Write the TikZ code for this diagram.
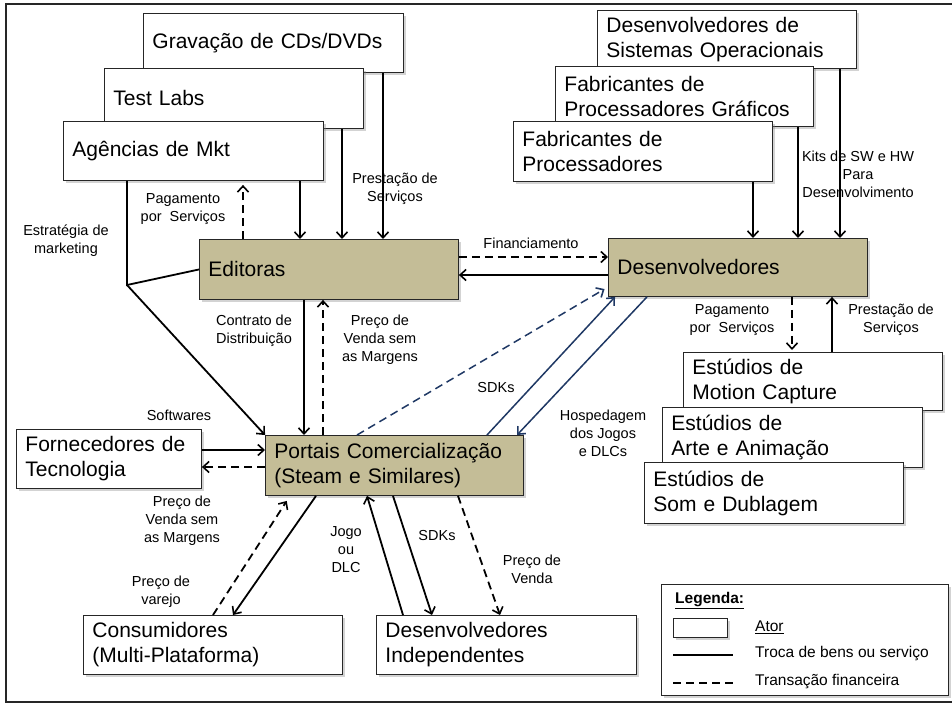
\documentclass[tikz,border=0pt]{standalone}
\usepackage{fontspec}
\setmainfont{Liberation Sans}
\usetikzlibrary{shadows,arrows.meta}
\definecolor{tanfill}{RGB}{196,189,151}
\definecolor{navy}{RGB}{31,56,100}
\begin{document}
\begin{tikzpicture}[x=1pt,y=-1pt,
  box/.style={draw=black!85, line width=0.9pt, fill=white, rectangle, anchor=north west,
    inner xsep=9pt, inner ysep=0pt, align=left, font=\fontsize{21}{25}\selectfont,
    drop shadow={shadow xshift=2.5pt,shadow yshift=-2.5pt,opacity=0.35}},
  tanbox/.style={box, fill=tanfill},
  lbl/.style={align=center, inner sep=0pt, font=\fontsize{14.5}{18}\selectfont},
  legtxt/.style={anchor=west, inner sep=0pt, font=\fontsize{15.5}{18}\selectfont},
  plain/.style={line width=1.8pt, draw=black},
  sol/.style={plain, -{Straight Barb[length=6pt,width=11pt,line width=1.6pt]}},
  dsh/.style={sol, dash pattern=on 8pt off 5pt},
  bsol/.style={sol, draw=navy, line width=1.5pt},
  bdsh/.style={dsh, draw=navy, line width=1.5pt}
]
\useasboundingbox (0,0) rectangle (952,704);
\draw[line width=2pt, draw=black!85] (6,4) rectangle (962,702);

% top-left stack
\node[box, minimum width=260pt, minimum height=59pt, text width=242pt] (grav) at (143,13) {Gravação de CDs/DVDs};
\node[box, minimum width=259pt, minimum height=60pt, text width=241pt] (test) at (104,68) {Test Labs};
\node[box, minimum width=260pt, minimum height=59pt, text width=242pt] (agen) at (63,121) {Agências de Mkt};
% top-right stack
\node[box, minimum width=259pt, minimum height=58pt, text width=241pt] (so) at (597,10) {Desenvolvedores de\\Sistemas Operacionais};
\node[box, minimum width=258pt, minimum height=60pt, text width=240pt] (gpu) at (555,66) {Fabricantes de\\Processadores Gráficos};
\node[box, minimum width=259pt, minimum height=60pt, text width=241pt] (cpu) at (513,121) {Fabricantes de\\Processadores};
% main actors
\node[tanbox, minimum width=259pt, minimum height=60pt, text width=241pt] (edit) at (199,239) {Editoras};
\node[tanbox, minimum width=259pt, minimum height=58pt, text width=241pt] (dev) at (608,238) {Desenvolvedores};
\node[tanbox, minimum width=258pt, minimum height=60pt, text width=240pt] (port) at (265,435) {Portais Comercialização\\(Steam e Similares)};
% studios
\node[box, minimum width=259pt, minimum height=58pt, text width=241pt] (mocap) at (683,352) {Estúdios de\\Motion Capture};
\node[box, minimum width=260pt, minimum height=60pt, text width=242pt] (arte) at (662,407) {Estúdios de\\Arte e Animação};
\node[box, minimum width=259pt, minimum height=61pt, text width=241pt] (som) at (644,462) {Estúdios de\\Som e Dublagem};
% others
\node[box, minimum width=185pt, minimum height=59pt, text width=167pt] (forn) at (16,429) {Fornecedores de\\Tecnologia};
\node[box, minimum width=259pt, minimum height=59pt, text width=241pt] (cons) at (83,615) {Consumidores\\(Multi-Plataforma)};
\node[box, minimum width=260pt, minimum height=59pt, text width=242pt] (indie) at (376,615) {Desenvolvedores\\Independentes};

% helper coordinates
\coordinate (x383) at (383,0); \coordinate (x342) at (342,0); \coordinate (x300) at (300,0);
\coordinate (x243) at (243,0); \coordinate (x304) at (304,0); \coordinate (x323) at (323,0);
\coordinate (x753) at (753,0); \coordinate (x798) at (798,0); \coordinate (x840) at (840,0);
\coordinate (x792) at (792,0); \coordinate (x832) at (832,0);
\coordinate (x316) at (316,0); \coordinate (x233) at (233,0); \coordinate (x213) at (213,0);
\coordinate (x290) at (290,0); \coordinate (x403) at (403,0); \coordinate (x367) at (367,0);
\coordinate (x393) at (393,0); \coordinate (x432) at (432,0); \coordinate (x458) at (458,0);
\coordinate (x500) at (500,0); \coordinate (x357) at (357,0); \coordinate (x487) at (487,0);
\coordinate (x615) at (615,0); \coordinate (x647) at (647,0); \coordinate (x517) at (517,0);
\coordinate (y257) at (0,257); \coordinate (y275) at (0,275); \coordinate (y287) at (0,287);
\coordinate (y450) at (0,450); \coordinate (y467) at (0,467);
\coordinate (jn) at (127,285);

% connectors to Editoras
\draw[sol] (grav.south -| x383) -- (edit.north -| x383);
\draw[sol] (test.south -| x342) -- (edit.north -| x342);
\draw[sol] (agen.south -| x300) -- (edit.north -| x300);
\draw[dsh, shorten >=4pt] (edit.north -| x243) -- (agen.south -| x243);
\draw[plain] (agen.south -| jn) -- (jn) -- (edit.west);
\draw[sol] (jn) -- (port.north west);
% Editoras <-> Portais
\draw[sol] (edit.south -| x304) -- (port.north -| x304);
\draw[dsh] (port.north -| x323) -- (edit.south -| x323);
% Editoras <-> Desenvolvedores
\draw[dsh] (edit.east |- y257) -- (dev.west |- y257);
\draw[sol] (dev.west |- y275) -- (edit.east |- y275);
% suppliers to Desenvolvedores
\draw[sol] (cpu.south -| x753) -- (dev.north -| x753);
\draw[sol] (gpu.south -| x798) -- (dev.north -| x798);
\draw[sol] (so.south -| x840) -- (dev.north -| x840);
% Desenvolvedores <-> studios
\draw[dsh, shorten >=2pt] (dev.south -| x792) -- (mocap.north -| x792);
\draw[sol] (mocap.north -| x832) -- (dev.south -| x832);
% Fornecedores <-> Portais
\draw[sol] (forn.east |- y450) -- (port.west |- y450);
\draw[dsh] (port.west |- y467) -- (forn.east |- y467);
% Portais <-> Consumidores
\draw[sol] (port.south -| x316) -- (cons.north -| x233);
\draw[dsh, shorten >=6pt] (cons.north -| x213) -- (port.south -| x290);
% Portais <-> Independentes
\draw[sol] (indie.north -| x403) -- (port.south -| x367);
\draw[sol] (port.south -| x393) -- (indie.north -| x432);
\draw[dsh] (port.south -| x458) -- (indie.north -| x500);
% Portais <-> Desenvolvedores (blue)
\draw[bdsh, shorten >=4pt] (port.north -| x357) -- (dev.west |- y287);
\draw[bsol] (port.north -| x487) -- (dev.south -| x615);
\draw[bsol] (dev.south -| x647) -- (port.north -| x517);

% labels
\node[lbl] (lpag1) at (183,209) {Pagamento\\por\ \ Serviços};
\node[lbl] (lpres1) at (395,189) {Prestação de\\Serviços};
\node[lbl] (lestr) at (66,241) {Estratégia de\\marketing};
\node[lbl] (lcont) at (254,331) {Contrato de\\Distribuição};
\node[lbl] (lpv1) at (380,340) {Preço de\\Venda sem\\as Margens};
\node[lbl] (lsoft) at (179,415) {Softwares};
\node[lbl] (lpv2) at (182,521) {Preço de\\Venda sem\\as Margens};
\node[lbl] (lvar) at (161,592) {Preço de\\varejo};
\node[lbl] (ljogo) at (346,550) {Jogo\\ou\\DLC};
\node[lbl] (lsdk2) at (437,535) {SDKs};
\node[lbl] (lpvenda) at (532,569) {Preço de\\Venda};
\node[lbl] (lfin) at (531,243) {Financiamento};
\node[lbl] (lsdk1) at (496,388) {SDKs};
\node[lbl] (lhosp) at (603,433) {Hospedagem\\dos Jogos\\e DLCs};
\node[lbl] (lkits) at (858,174) {Kits de SW e HW\\Para\\Desenvolvimento};
\node[lbl] (lpag2) at (732,320) {Pagamento\\por\ \ Serviços};
\node[lbl] (lpres2) at (891,320) {Prestação de\\Serviços};

% legend
\node[box, minimum width=287pt, minimum height=111pt] (legend) at (661,584) {};
\node[legtxt, font=\fontsize{15.5}{18}\bfseries] (legt) at (675,601) {\underline{Legenda:}};
\node[box, minimum width=54pt, minimum height=19pt, line width=0.8pt] (legbox) at (673,618) {};
\node[legtxt] (lator) at (755,627) {\underline{Ator}};
\coordinate (ls1) at (673,655); \coordinate (ls2) at (733,655);
\draw[plain] (ls1) -- (ls2);
\node[legtxt] (ltroca) at (755,654) {Troca de bens ou serviço};
\coordinate (ld1) at (673,683); \coordinate (ld2) at (733,683);
\draw[plain, dash pattern=on 8pt off 5pt] (ld1) -- (ld2);
\node[legtxt] (ltrans) at (755,682) {Transação financeira};
\end{tikzpicture}
\end{document}
